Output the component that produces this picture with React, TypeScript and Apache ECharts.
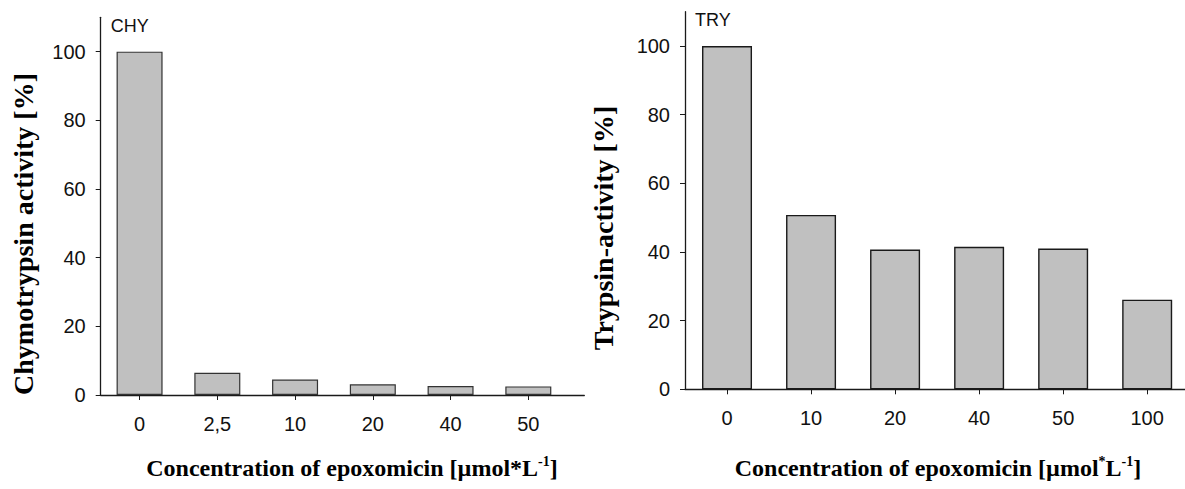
import React, { useEffect, useRef } from "react";
import * as echarts from "echarts";

const chyCategories = ["0", "2,5", "10", "20", "40", "50"];
const chyValues = [100, 6.5, 4.5, 3.1, 2.6, 2.5];
const tryCategories = ["0", "10", "20", "40", "50", "100"];
const tryValues = [100, 50.8, 40.7, 41.5, 41.0, 26.1];
const yTicks = [0, 20, 40, 60, 80, 100];

const SERIF = '"Liberation Serif", "Times New Roman", serif';
const SANS = '"Liberation Sans", Arial, sans-serif';

export default function App() {
  const ref = useRef<HTMLDivElement>(null);
  useEffect(() => {
    if (!ref.current) return;
    const chart = echarts.init(ref.current, null, { renderer: "svg" });
    const idx = (arr: string[]) => arr.map((_, i) => i);
    const xAxisBase = (cats: string[], max: number, gridIndex: number) => ({
      type: "value",
      gridIndex,
      min: -0.5,
      max,
      splitLine: { show: false },
      axisLine: { show: true, onZero: false, lineStyle: { color: "#1a1a1a", width: 1.3 } },
      axisTick: { show: true, length: 5, customValues: idx(cats), lineStyle: { color: "#1a1a1a" } },
      axisLabel: {
        customValues: idx(cats),
        formatter: (v: number) => cats[Math.round(v)] ?? "",
        margin: 19,
        fontFamily: SANS,
        fontSize: 20,
        color: "#111",
      },
    });
    const yAxisBase = (gridIndex: number) => ({
      type: "value",
      gridIndex,
      min: 0,
      max: 110,
      splitLine: { show: false },
      axisLine: { show: true, onZero: false, lineStyle: { color: "#1a1a1a", width: 1.3 } },
      axisTick: { show: true, length: 5, customValues: yTicks, lineStyle: { color: "#1a1a1a" } },
      axisLabel: {
        customValues: yTicks,
        margin: 15,
        fontFamily: SANS,
        fontSize: 20,
        color: "#111",
      },
    });
    const supRich = {
      m: { fontFamily: SERIF, fontWeight: "bold", fontSize: 24, color: "#000", lineHeight: 28 },
      s: { fontFamily: SERIF, fontWeight: "bold", fontSize: 14, color: "#000", lineHeight: 28, verticalAlign: "top", padding: [0, 0, 10, 0] },
    };
    chart.setOption({
      animation: false,
      backgroundColor: "#fff",
      grid: [
        { left: 100.7, right: 600.7, top: 17.3, bottom: 94 },
        { left: 685, right: 0, top: 11.7, bottom: 99.7 },
      ],
      xAxis: [xAxisBase(chyCategories, 5.72, 0), xAxisBase(tryCategories, 5.45, 1)],
      yAxis: [yAxisBase(0), yAxisBase(1)],
      series: [
        {
          type: "bar",
          xAxisIndex: 0,
          yAxisIndex: 0,
          barWidth: 46,
          data: chyValues.map((v, i) => [i, v]),
          itemStyle: { color: "#c0c0c0", borderColor: "#333", borderWidth: 1.2 },
        },
        {
          type: "bar",
          xAxisIndex: 1,
          yAxisIndex: 1,
          barWidth: 50,
          data: tryValues.map((v, i) => [i, v]),
          itemStyle: { color: "#c0c0c0", borderColor: "#1a1a1a", borderWidth: 1.4 },
        },
      ],
      graphic: [
        { type: "text", x: 110.7, y: 17, style: { text: "CHY", font: `18px ${SANS}`, fill: "#111" } },
        { type: "text", x: 695, y: 11, style: { text: "TRY", font: `18px ${SANS}`, fill: "#111" } },
        {
          type: "text",
          x: 23,
          y: 234,
          rotation: Math.PI / 2,
          style: {
            text: "Chymotrypsin activity [%]",
            font: `bold 28px ${SERIF}`,
            fill: "#000",
            align: "center",
            verticalAlign: "middle",
          },
        },
        {
          type: "text",
          x: 603,
          y: 228,
          rotation: Math.PI / 2,
          style: {
            text: "Trypsin-activity [%]",
            font: `bold 28px ${SERIF}`,
            fill: "#000",
            align: "center",
            verticalAlign: "middle",
          },
        },
        {
          type: "text",
          x: 352,
          y: 468,
          style: {
            text: "{m|Concentration of epoxomicin [µmol*L}{s|-1}{m|]}",
            rich: supRich,
            align: "center",
            verticalAlign: "middle",
          },
        },
        {
          type: "text",
          x: 938,
          y: 468,
          style: {
            text: "{m|Concentration of epoxomicin [µmol}{s|*}{m|L}{s|-1}{m|]}",
            rich: supRich,
            align: "center",
            verticalAlign: "middle",
          },
        },
      ],
    });
    return () => chart.dispose();
  }, []);
  return (
    <div
      ref={ref}
      style={{ position: "fixed", left: 0, top: 0, width: 1185, height: 489, background: "#fff" }}
    />
  );
}
